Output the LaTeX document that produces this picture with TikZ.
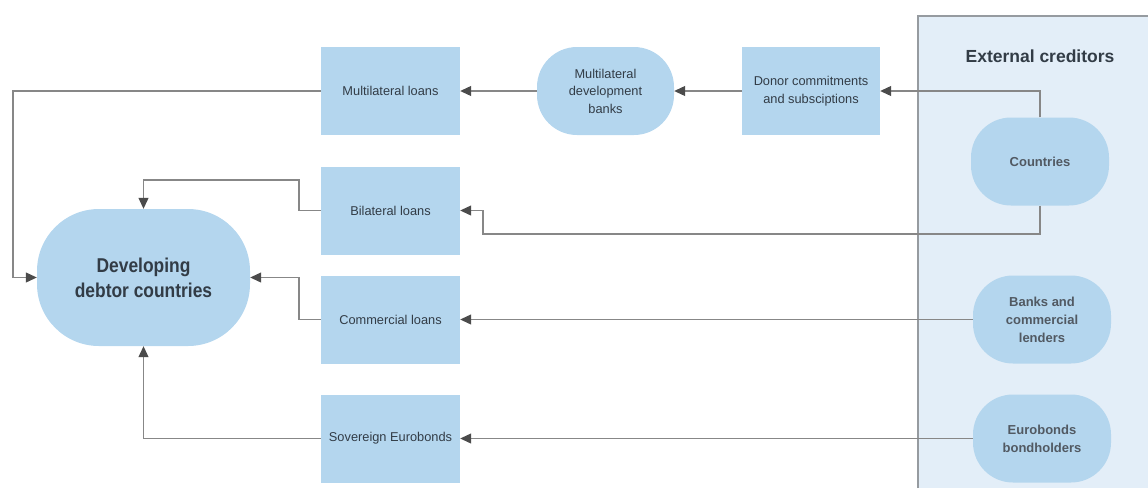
\documentclass[tikz,border=0pt]{standalone}
\usepackage{fontspec}
\setmainfont{Liberation Sans}
\newfontfamily\debtorfont{Liberation Sans}[UprightFont=* Bold, FakeStretch=0.87]
\usetikzlibrary{arrows.meta}
\definecolor{boxfill}{RGB}{180,214,238}
\definecolor{panelfill}{RGB}{227,238,248}
\definecolor{panelline}{RGB}{150,155,160}
\definecolor{linegray}{RGB}{135,135,135}
\definecolor{tipgray}{RGB}{75,75,75}
\definecolor{txt}{RGB}{50,60,70}
\tikzset{
  sqbox/.style={rectangle, fill=boxfill, minimum width=139pt, minimum height=88pt, inner sep=0pt, align=center, text=txt, font=\fontsize{12.8}{17.5}\selectfont},
  rbox/.style={rectangle, rounded corners=40pt, fill=boxfill, minimum width=138pt, minimum height=88pt, inner sep=0pt, align=center, text=txt, font=\fontsize{12.8}{17.5}\selectfont},
  credbox/.style={rbox, font=\bfseries\fontsize{13}{18}\selectfont, text=txt!85!white},
  conn/.style={draw=linegray, line width=1.1pt, -{Triangle[length=11pt,width=10pt,color=tipgray]}},
}
\begin{document}
\begin{tikzpicture}[x=1pt,y=-1pt]
\useasboundingbox (0,0) rectangle (1148,488);
% panel
\fill[panelfill] (918,16) rectangle (1148,488);
\draw[panelline, line width=1.2pt] (918,488) -- (918,16) -- (1148,16);
\node[font=\bfseries\fontsize{17.5}{20}\selectfont, text=txt] (ext) at (1040,56) {External creditors};
% creditors
\node[credbox] (countries) at (1040,161.5) {Countries};
\node[credbox] (banks) at (1042,319.5) {Banks and\\commercial\\lenders};
\node[credbox] (euroh) at (1042,438.5) {Eurobonds\\bondholders};
% loan boxes
\node[sqbox] (multi) at (390.5,91) {Multilateral loans};
\node[sqbox] (bilateral) at (390.5,210.5) {Bilateral loans};
\node[sqbox] (commercial) at (390.5,319.5) {Commercial loans};
\node[sqbox] (sovereign) at (390.5,438.5) {Sovereign Eurobonds};
\node[rbox, minimum width=137pt] (mdb) at (605.5,91) {Multilateral\\development\\banks};
\node[sqbox, minimum width=138pt] (donor) at (811,91) {Donor commitments\\and subsciptions};
% debtor
\node[rectangle, rounded corners=62pt, fill=boxfill, minimum width=213pt, minimum height=137pt, inner sep=0pt, align=center, text=txt, font=\debtorfont\fontsize{20}{25}\selectfont] (debtor) at (143.5,277.5) {Developing\\debtor countries};
% connectors
\draw[conn] (countries.north) |- (donor.east);
\draw[conn] (donor.west) -- (mdb.east);
\draw[conn] (mdb.west) -- (multi.east);
\draw[conn] (multi.west) -- (13,91) |- (debtor.west);
\draw[conn] (countries.south) |- (483,234) |- (bilateral.east);
\draw[conn] (bilateral.west) -| (299,180) -| (debtor.north);
\draw[conn] (banks.west) -- (commercial.east);
\draw[conn] (commercial.west) -- (299,319.5) |- (debtor.east);
\draw[conn] (euroh.west) -- (sovereign.east);
\draw[conn] (sovereign.west) -| (debtor.south);
\end{tikzpicture}
\end{document}
